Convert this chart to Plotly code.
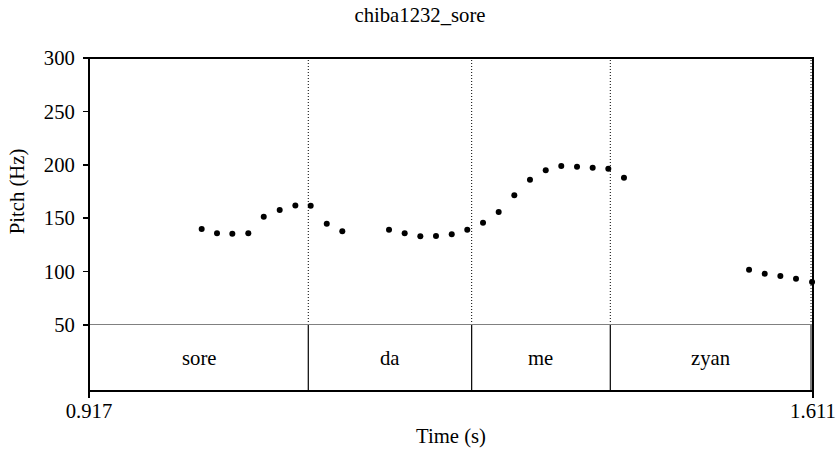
import plotly.graph_objects as go

# ---- data ----
title_text = "chiba1232_sore"
t_start = 0.917
t_end = 1.611

pitch_times = [1.0250, 1.0397, 1.0544, 1.0697, 1.0845, 1.0998, 1.1148, 1.1295, 1.1449, 1.1598,
               1.2046, 1.2196, 1.2346, 1.2496, 1.2647, 1.2796, 1.2947, 1.3097, 1.3247, 1.3397,
               1.3548, 1.3697, 1.3848, 1.3998, 1.4148, 1.4298,
               1.5497, 1.5647, 1.5797, 1.5947, 1.6101]
pitch_hz = [139.9, 135.9, 135.5, 135.9, 151.4, 157.7, 162.0, 161.7, 144.9, 137.7,
            139.2, 135.9, 133.0, 133.3, 134.9, 139.2, 145.8, 155.8, 171.4, 186.0,
            194.8, 198.9, 198.2, 197.3, 196.3, 187.9,
            101.8, 98.0, 95.9, 93.4, 90.3]

boundaries = [1.1272, 1.2838, 1.4167]
last_boundary = 1.6091
labels = ["sore", "da", "me", "zyan"]
interval_edges = [t_start] + boundaries + [last_boundary]

y_ticks = [50, 100, 150, 200, 250, 300]
x_ticks = [0.917, 1.611]
x_ticktext = ["0.917", "1.611"]

FONT = "Liberation Serif, Times New Roman, serif"
FS = 20.7

W, H = 840, 451
ml, mt = 89, 58
plot_w, plot_h = 724, 333
mr = W - ml - plot_w
mb = H - mt - plot_h
tier_frac = 66 / plot_h

fig = go.Figure()
fig.add_trace(go.Scatter(x=pitch_times, y=pitch_hz, mode="markers",
                         marker=dict(color="black", size=6),
                         xaxis="x", yaxis="y", showlegend=False, hoverinfo="skip",
                         cliponaxis=False))

shapes = []
# dotted boundaries in pitch area
for b in boundaries + [last_boundary]:
    shapes.append(dict(type="line", xref="x", yref="y", x0=b, x1=b, y0=50, y1=300,
                       line=dict(color="black", width=1, dash="1px,2px"), layer="above"))
# solid boundaries in tier
for b in boundaries:
    shapes.append(dict(type="line", xref="x", yref="y2", x0=b, x1=b, y0=0, y1=1,
                       line=dict(color="black", width=1.2), layer="above"))
shapes.append(dict(type="line", xref="x", yref="y2", x0=last_boundary, x1=last_boundary, y0=0, y1=1,
                   line=dict(color="#808080", width=2), layer="above"))
# grey separator at 50 Hz
shapes.append(dict(type="line", xref="paper", yref="y", x0=0, x1=1, y0=50, y1=50,
                   line=dict(color="#808080", width=2), layer="above"))
# frame
shapes.append(dict(type="rect", xref="paper", yref="paper", x0=0, x1=1, y0=0, y1=1,
                   line=dict(color="black", width=2), layer="above"))

annotations = []
for i, lab in enumerate(labels):
    xm = (interval_edges[i] + interval_edges[i + 1]) / 2
    annotations.append(dict(x=xm, y=0.5, xref="x", yref="y2", text=lab, showarrow=False,
                            font=dict(family=FONT, size=FS, color="black"),
                            xanchor="center", yanchor="middle"))

fig.update_layout(
    width=W, height=H,
    margin=dict(l=ml, r=mr, t=mt, b=mb, autoexpand=False),
    paper_bgcolor="white", plot_bgcolor="white",
    font=dict(family=FONT, size=FS, color="black"),
    title=dict(text=title_text, x=0.5, xanchor="center", y=1 - 15 / H, yanchor="middle",
               font=dict(family=FONT, size=FS, color="black")),
    xaxis=dict(range=[t_start, t_end], domain=[0, 1], anchor="y2", automargin=False,
               tickvals=x_ticks, ticktext=x_ticktext, ticks="outside", ticklen=6,
               tickwidth=1.5, tickcolor="black", showgrid=False, zeroline=False,
               showline=False, ticklabelstandoff=-5,
               title=dict(text="Time (s)", standoff=7, font=dict(family=FONT, size=FS))),
    yaxis=dict(range=[50, 300], domain=[tier_frac, 1], anchor="x", automargin=False,
               tickvals=y_ticks, ticks="outside", ticklen=5, tickwidth=1.5,
               tickcolor="black", showgrid=False, zeroline=False, showline=False,
               ticklabelstandoff=4,
               title=dict(text="Pitch (Hz)", standoff=13, font=dict(family=FONT, size=FS))),
    yaxis2=dict(range=[0, 1], domain=[0, tier_frac], anchor="x", visible=False),
    shapes=shapes, annotations=annotations,
)

fig.write_html("out.html", config={"displayModeBar": False, "staticPlot": True},
               post_script="document.body.style.margin='0';document.body.style.overflow='hidden';")
